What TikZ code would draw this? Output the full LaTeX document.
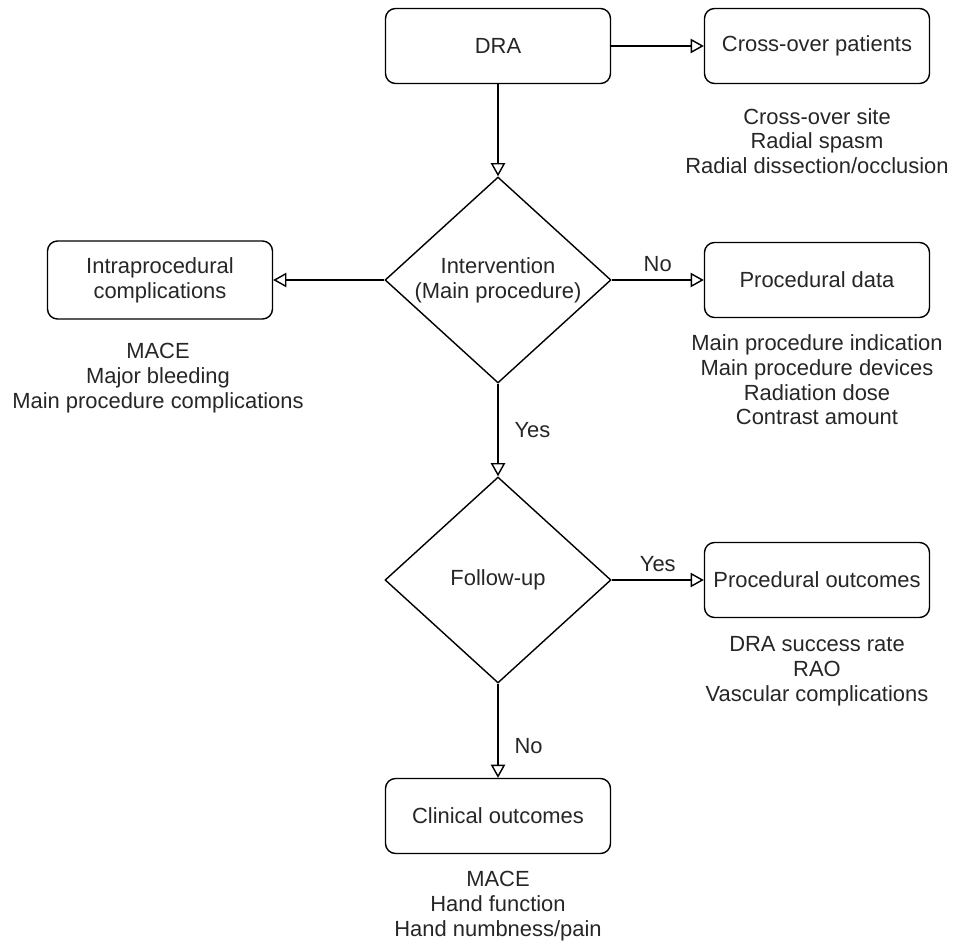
\documentclass[tikz,border=0pt]{standalone}
\usepackage{fontspec}
\setmainfont{Liberation Sans}
\usetikzlibrary{positioning}
\usetikzlibrary{arrows.meta}
\usetikzlibrary{shapes.geometric}
\tikzset{every node/.style={font=\fontsize{15.6}{17.6}\selectfont, text=black!85}}
\tikzset{BoxStyle/.style={draw, rounded corners=0.25cm, line width=1pt, minimum width=5.625cm, minimum height=1.875cm, align=center}}
\tikzset{DecisionStyle/.style={draw, diamond, aspect=1.1, inner sep=0pt, line width=1pt, minimum width=5.65cm, minimum height=5.15cm, align=center}}
\tikzset{ListStyle/.style={align=center}}
\tikzset{EdgeStyle/.style={line width=1pt, -{Triangle[open, length=0.33cm, width=0.36cm]}}}

\begin{document}
\begin{tikzpicture}
        \useasboundingbox (0,0) rectangle (23.9,-23.725);
        % boxes
        \node[BoxStyle] (DRA) at (12.45,-1.15) {DRA};
        \node[BoxStyle] (CO) at (20.425,-1.15) {Cross-over patients};
        \node[DecisionStyle] (IV) at (12.45,-7.0) {Intervention\\(Main procedure)};
        \node[BoxStyle, minimum height=1.95cm] (IC) at (4.0,-7.0) {Intraprocedural\\complications};
        \node[BoxStyle] (PD) at (20.425,-7.0) {Procedural data};
        \node[DecisionStyle] (FU) at (12.45,-14.5) {Follow-up};
        \node[BoxStyle] (PO) at (20.425,-14.5) {Procedural outcomes};
        \node[BoxStyle] (CL) at (12.45,-20.4) {Clinical outcomes};
        % lists
        \node[ListStyle] (COt) at (20.425,-3.525) {Cross-over site\\Radial spasm\\Radial dissection/occlusion};
        \node[ListStyle] (ICt) at (3.95,-9.45) {MACE\\Major bleeding\\Main procedure complications};
        \node[ListStyle] (PDt) at (20.425,-9.5) {Main procedure indication\\Main procedure devices\\Radiation dose\\Contrast amount};
        \node[ListStyle] (POt) at (20.425,-16.775) {DRA success rate\\RAO\\Vascular complications};
        \node[ListStyle] (CLt) at (12.45,-22.65) {MACE\\Hand function\\Hand numbness/pain};
        % edges
        \draw[EdgeStyle] (DRA) -- (CO);
        \draw[EdgeStyle] (DRA) -- (IV);
        \draw[EdgeStyle] (IV) -- (IC);
        \draw[EdgeStyle] (IV) -- node[above=0.08cm] {No} (PD);
        \draw[EdgeStyle] (IV) -- node[right=0.28cm] {Yes} (FU);
        \draw[EdgeStyle] (FU) -- node[above=0.08cm] {Yes} (PO);
        \draw[EdgeStyle] (FU) -- node[pos=0.66, right=0.28cm] {No} (CL);
    \end{tikzpicture}
\end{document}
